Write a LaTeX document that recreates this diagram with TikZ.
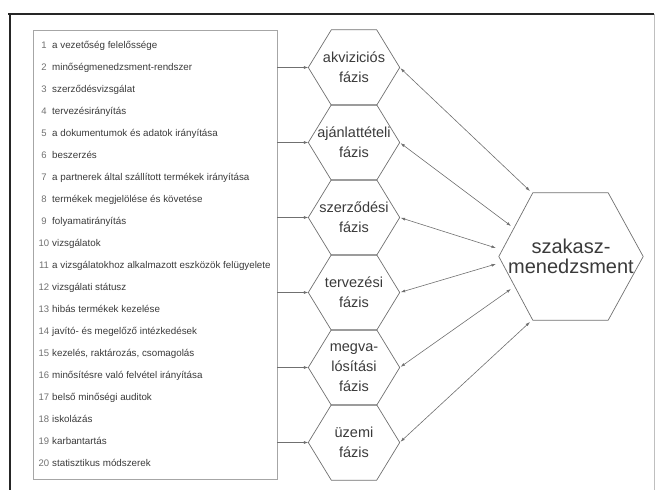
\documentclass[tikz,border=0pt]{standalone}
\usepackage{fontspec}
\setmainfont{Liberation Sans}
\usetikzlibrary{arrows.meta,calc}
\definecolor{txt}{HTML}{3A3A3A}
\definecolor{ln}{HTML}{707070}
\begin{document}
\begin{tikzpicture}[x=1pt,y=-1pt,
  hexlabel/.style={draw=none,inner sep=0pt,minimum width=91pt,minimum height=75pt,
    align=center,text=txt,font=\fontsize{14.5}{20}\selectfont},
  hexline/.style={draw=ln,line width=0.7pt},
  item/.style={anchor=base west,inner sep=0pt,text=txt,font=\fontsize{9.8}{12}\selectfont},
  num/.style={anchor=base,inner sep=0pt,text=ln,font=\fontsize{9.5}{12}\selectfont},
  feed/.style={draw=ln,line width=0.6pt,-{Latex[length=4.5pt,width=3pt]}},
  link/.style={draw=ln,line width=0.6pt,{Latex[length=4.5pt,width=3pt]}-{Latex[length=4.5pt,width=3pt]}}
]
\useasboundingbox (0,0) rectangle (657,490);
% frame
\draw[line width=2pt,black!85] (8,14) -- (654,14);
\draw[line width=2pt,black!85] (10,13) -- (10,490);
\draw[line width=0.5pt,black!25] (654,14) -- (654,490);
% list box
\node[draw=black!35,line width=0.6pt,minimum width=244pt,minimum height=449pt,inner sep=0pt] (list) at (155,254.5) {};
\foreach \i/\t in {1/a vezetőség felelőssége,2/minőségmenedzsment-rendszer,3/szerződésvizsgálat,
  4/tervezésirányítás,5/a dokumentumok és adatok irányítása,6/beszerzés,
  7/a partnerek által szállított termékek irányítása,8/termékek megjelölése és követése,
  9/folyamatirányítás,10/vizsgálatok,11/a vizsgálatokhoz alkalmazott eszközök felügyelete,
  12/vizsgálati státusz,13/hibás termékek kezelése,14/javító- és megelőző intézkedések,
  15/{kezelés, raktározás, csomagolás},16/minősítésre való felvétel irányítása,
  17/belső minőségi auditok,18/iskolázás,19/karbantartás,20/statisztikus módszerek}{
  \node[num] (n\i) at (44,{48+(\i-1)*22}) {\i};
  \node[item] (t\i) at (52,{48+(\i-1)*22}) {\t};
}
% phase hexagons
\node[hexlabel] (h1) at (354,67.5) {akviziciós\\fázis};
\node[hexlabel] (h2) at (354,142.5) {ajánlattételi\\fázis};
\node[hexlabel] (h3) at (354,217.5) {szerződési\\fázis};
\node[hexlabel] (h4) at (354,292.5) {tervezési\\fázis};
\node[hexlabel] (h5) at (354,367.5) {megva-\\lósítási\\fázis};
\node[hexlabel] (h6) at (354,442.5) {üzemi\\fázis};
\foreach \h in {h1,h2,h3,h4,h5,h6}{
  \draw[hexline] (\h.west) -- ([xshift=23pt]\h.north west) -- ([xshift=-23pt]\h.north east)
    -- (\h.east) -- ([xshift=-23pt]\h.south east) -- ([xshift=23pt]\h.south west) -- cycle;
}
% big hexagon
\node[hexlabel,minimum width=144pt,minimum height=127pt,font=\fontsize{20}{20}\selectfont] (big) at (571,256.5) {szakasz-\\menedzsment};
\draw[hexline] (big.west) -- ([xshift=34pt]big.north west) -- ([xshift=-35pt]big.north east)
  -- (big.east) -- ([xshift=-35pt]big.south east) -- ([xshift=34pt]big.south west) -- cycle;
\coordinate (b1) at (530,191);
\coordinate (b2) at (511,226);
\coordinate (b3) at (496,248);
\coordinate (b4) at (496,264);
\coordinate (b5) at (511,289);
\coordinate (b6) at (530,322);
% connectors
\foreach \k in {1,...,6}{
  \draw[feed] (list.east |- h\k.west) -- (h\k.west);
  \draw[link,shorten <=1pt] (h\k.east) -- (b\k);
}
\end{tikzpicture}
\end{document}
